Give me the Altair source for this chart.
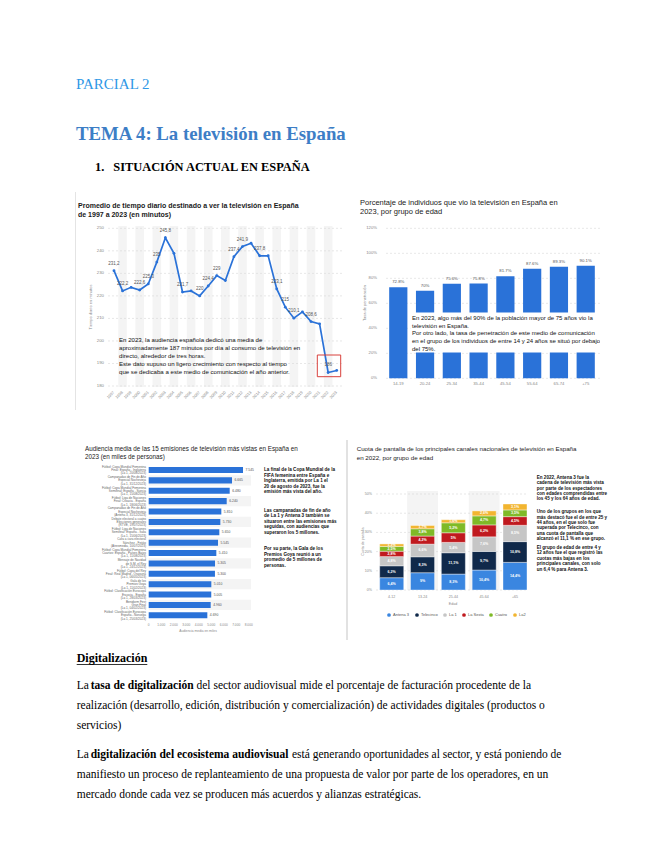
import altair as alt
import pandas as pd

SANS = "Liberation Sans"
SERIF = "Liberation Serif"
BLUE = "#2a72d8"

# ---------------- data ----------------
years = [str(y) for y in range(1997, 2024)]
minutes = [231.2, 222.2, 223.8, 222.6, 225.3, 235.0, 245.8, 238.9, 221.7, 222.2,
           220.0, 224.4, 229.0, 226.8, 237.4, 241.9, 243.4, 237.8, 237.8, 223.1,
           215.0, 210.1, 212.9, 208.6, 207.6, 186.0, 186.9]
labelled_years = ["1997", "1998", "2000", "2001", "2002", "2003", "2005", "2007", "2008",
                  "2009", "2011", "2012", "2014", "2016", "2017", "2018", "2020", "2022"]
minute_ticks = [180, 190, 200, 210, 220, 230, 240, 250]

age_groups = ["14-19", "20-24", "25-34", "35-44", "45-54", "55-64", "65-74", "+75"]
penetration = [72.8, 70.0, 75.6, 75.8, 81.7, 87.6, 89.3, 90.1]
pct_ticks = [0, 20, 40, 60, 80, 100, 120]

programs = [
    "Fútbol: Copa Mundial Femenina|Final: España - Inglaterra|(La 1, 20/08/2023)",
    "Campanadas de Fin de Año|Especial Nochevieja|(La 1, 31/12/2023)",
    "Fútbol: Copa Mundial Femenina|Semifinal: España - Suecia|(La 1, 15/08/2023)",
    "Fútbol: Liga de Naciones|Final: Croacia - España|(La 1, 18/06/2023)",
    "Campanadas de Fin de Año|Especial Nochevieja|(Antena 3, 31/12/2023)",
    "Debate electoral a cuatro|Elecciones generales|(RTVE, 19/07/2023)",
    "Fútbol: Liga de Naciones|Semifinal: España - Italia|(La 1, 15/06/2023)",
    "Cara a cara electoral|Sánchez - Feijóo|(Atresmedia, 10/07/2023)",
    "Fútbol: Copa Mundial Femenina|Cuartos: España - Países Bajos|(La 1, 11/08/2023)",
    "Mensaje de Navidad|de S.M. el Rey|(La 1, 24/12/2023)",
    "Fútbol: Copa del Rey|Final: Real Madrid - Osasuna|(La 1, 06/05/2023)",
    "Gala de los|Premios Goya|(La 1, 11/02/2023)",
    "Fútbol: Clasificación Eurocopa|Escocia - España|(La 1, 28/03/2023)",
    "Benidorm Fest|Gran Final|(La 1, 04/02/2023)",
    "Fútbol: Clasificación Eurocopa|España - Noruega|(La 1, 25/03/2023)",
]
audience = [7545, 6665, 6480, 6240, 5810, 5730, 5650, 5545, 5410, 5305, 5300, 5010, 5005, 4960, 4690]
aud_ticks = [0, 1000, 2000, 3000, 4000, 5000, 6000, 7000, 8000]

age_groups4 = ["4-12", "13-24", "25-44", "45-64", "+65"]
channels = ["Antena 3", "Telecinco", "La 1", "La Sexta", "Cuatro", "La2"]
channel_colors = ["#3a86e0", "#10294a", "#c6c6c6", "#c01a1f", "#7fba27", "#f2b530"]
share_antena3 = [6.4, 9.0, 8.3, 10.4, 14.4]
share_telecinco = [6.2, 8.3, 11.1, 9.7, 10.8]
share_la1 = [4.8, 6.6, 5.4, 7.6, 8.5]
share_lasexta = [2.8, 4.2, 5.0, 6.2, 4.5]
share_cuatro = [2.5, 3.8, 5.2, 4.7, 3.5]
share_la2 = [1.3, 1.7, 1.6, 2.6, 3.1]
share_ticks = [0, 10, 20, 30, 40, 50]


# ---------------- helpers ----------------
def X(v):
    return v - 8


def Y(v):
    return v - 8


def es_num(v, dec=1, thousands=False):
    if thousands:
        return f"{int(round(v)):,}".replace(",", ".")
    s = f"{v:.{dec}f}".replace(".", ",")
    if s.endswith(",0"):
        s = s[:-2]
    return s


one = pd.DataFrame({"k": [0]})


def txt(text, x, y, size, color="#000", weight="normal", font=SANS, align="left",
        baseline="alphabetic", angle=None, lh=None):
    m = dict(text=text, fontSize=size, color=color, fontWeight=weight, font=font,
             align=align, baseline=baseline)
    if angle is not None:
        m["angle"] = angle
    if "\n" in text:
        m["lineBreak"] = "\n"
        m["lineHeight"] = lh
    return alt.Chart(one).mark_text(**m).encode(x=alt.value(X(x)), y=alt.value(Y(y)))


def hrule(x1, x2, y, color, width=1.0):
    return alt.Chart(one).mark_rule(color=color, strokeWidth=width).encode(
        x=alt.value(X(x1)), x2=alt.value(X(x2)), y=alt.value(Y(y)))


def vrule(x, y1, y2, color, width=1.0):
    return alt.Chart(one).mark_rule(color=color, strokeWidth=width).encode(
        x=alt.value(X(x)), y=alt.value(Y(y1)), y2=alt.value(Y(y2)))


def box(x1, x2, y1, y2, fill=None, stroke=None, sw=1.0):
    m = {}
    if fill:
        m["fill"] = fill
    else:
        m["fillOpacity"] = 0
    if stroke:
        m["stroke"] = stroke
        m["strokeWidth"] = sw
    return alt.Chart(one).mark_rect(**m).encode(
        x=alt.value(X(x1)), x2=alt.value(X(x2)), y=alt.value(Y(y1)), y2=alt.value(Y(y2)))


layers = []

# ---------------- headings ----------------
layers += [
    txt("PARCIAL 2", 76, 88.5, 15, color="#2f98e6", font=SERIF),
    txt("TEMA 4: La televisión en España", 76, 140, 18.8, color="#3d7ec6", weight="bold", font=SERIF),
    txt("1.", 95, 170.5, 12.4, weight="bold", font=SERIF),
    txt("SITUACIÓN ACTUAL EN ESPAÑA", 113.3, 170.5, 12.4, weight="bold", font=SERIF),
]

# ---------------- chart 1: line ----------------
df1 = pd.DataFrame({"year": years, "minutes": minutes, "i": list(range(len(years)))})
df1["label"] = [es_num(v) for v in minutes]
X1p = alt.Scale(type="point", domain=years, range=[X(109.7), X(341)], padding=0.5)
X1b = alt.Scale(type="band", domain=years, range=[X(109.7), X(341)], paddingInner=0, paddingOuter=0)
Y1 = alt.Scale(domain=[180, 250], range=[Y(386), Y(228.3)], zero=False, nice=False)
dft1 = pd.DataFrame({"v": minute_ticks})

layers += [
    vrule(75.5, 192, 410, "#e4e4e4", 1),
    alt.Chart(df1).transform_filter("datum.i % 2 == 1").mark_rect(color="#f4f4f4").encode(
        x=alt.X("year:O", scale=X1b, axis=None), y=alt.value(Y(226)), y2=alt.value(Y(387))),
    alt.Chart(dft1).mark_rule(color="#d6d6d6", strokeDash=[2, 2], strokeWidth=0.6).encode(
        y=alt.Y("v:Q", scale=Y1, axis=None), x=alt.value(X(108)), x2=alt.value(X(342))),
    alt.Chart(dft1).mark_text(align="right", baseline="middle", fontSize=4.3, color="#888", font=SANS).encode(
        y=alt.Y("v:Q", scale=Y1, axis=None), x=alt.value(X(104)), text="v:Q"),
    alt.Chart(df1).mark_line(color=BLUE, strokeWidth=1.7).encode(
        x=alt.X("year:O", scale=X1p, axis=None), y=alt.Y("minutes:Q", scale=Y1, axis=None)),
    alt.Chart(df1).mark_circle(color=BLUE, size=8, opacity=1).encode(
        x=alt.X("year:O", scale=X1p, axis=None), y=alt.Y("minutes:Q", scale=Y1, axis=None)),
    alt.Chart(df1).transform_filter(alt.FieldOneOfPredicate(field="year", oneOf=labelled_years)).mark_text(
        dy=-5, fontSize=4.5, color="#555", font=SANS, baseline="bottom").encode(
        x=alt.X("year:O", scale=X1p, axis=None), y=alt.Y("minutes:Q", scale=Y1, axis=None), text="label:N"),
    alt.Chart(df1).mark_text(angle=315, align="right", baseline="middle", fontSize=4, color="#888", font=SANS).encode(
        x=alt.X("year:O", scale=X1p, axis=None), y=alt.value(Y(392)), text="year:N"),
    txt("Tiempo diario en minutos", 91, 307, 4, color="#888", align="center", baseline="middle", angle=270),
    txt("Promedio de tiempo diario destinado a ver la televisión en España\nde 1997 a 2023 (en minutos)",
        78, 207.5, 7, color="#1a1a1a", weight="bold", lh=9),
    txt("En 2023, la audiencia española dedicó una media de\n"
        "aproximadamente 187 minutos por día al consumo de televisión en\n"
        "directo, alrededor de tres horas.\n"
        "Este dato supuso un ligero crecimiento con respecto al tiempo\n"
        "que se dedicaba a este medio de comunicación el año anterior.",
        119, 341.5, 6.1, color="#111", lh=8),
    box(317.3, 340.7, 355, 376.7, stroke="#d8403c", sw=1),
]

# ---------------- chart 2: bars by age ----------------
df2 = pd.DataFrame({"age": age_groups, "pct": penetration})
df2["label"] = [f"{v:.1f}".rstrip("0").rstrip(".") + "%" for v in penetration]
X2 = alt.Scale(type="band", domain=age_groups, range=[X(384.9), X(599.1)], paddingInner=0.32, paddingOuter=0.16)
Y2 = alt.Scale(domain=[0, 120], range=[Y(378.3), Y(228.3)], zero=False, nice=False)
dft2 = pd.DataFrame({"v": pct_ticks})
dft2["label"] = [f"{v}%" for v in pct_ticks]

layers += [
    alt.Chart(dft2).mark_rule(color="#d6d6d6", strokeDash=[2, 2], strokeWidth=0.6).encode(
        y=alt.Y("v:Q", scale=Y2, axis=None), x=alt.value(X(386)), x2=alt.value(X(600))),
    alt.Chart(dft2).mark_text(align="right", baseline="middle", fontSize=4.2, color="#888", font=SANS).encode(
        y=alt.Y("v:Q", scale=Y2, axis=None), x=alt.value(X(377)), text="label:N"),
    alt.Chart(df2).mark_bar(color=BLUE).encode(
        x=alt.X("age:O", scale=X2, axis=None), y=alt.Y("pct:Q", scale=Y2, axis=None)),
    alt.Chart(df2).mark_text(dy=-3, baseline="bottom", fontSize=4.3, color="#555", font=SANS).encode(
        x=alt.X("age:O", scale=X2, axis=None), y=alt.Y("pct:Q", scale=Y2, axis=None), text="label:N"),
    alt.Chart(df2).mark_text(baseline="middle", fontSize=4.2, color="#888", font=SANS).encode(
        x=alt.X("age:O", scale=X2, axis=None), y=alt.value(Y(383.5)), text="age:N"),
    txt("Tasa de penetración", 365, 303, 4, color="#888", align="center", baseline="middle", angle=270),
    txt("Porcentaje de individuos que vio la televisión en España en\n2023, por grupo de edad",
        360, 205.3, 7.5, color="#1a1a1a", lh=9),
    box(410.5, 600, 312.5, 352.5, fill="#ffffff"),
    txt("En 2023, algo más del 90% de la población mayor de 75 años vio la\n"
        "televisión en España.\n"
        "Por otro lado, la tasa de penetración de este medio de comunicación\n"
        "en el grupo de los individuos de entre 14 y 24 años se situó por debajo\n"
        "del 75%.",
        412, 319.8, 6, color="#111", lh=7.75),
    box(600, 647, 188, 412, fill="#ffffff"),
]

# ---------------- chart 3: horizontal bars ----------------
df3 = pd.DataFrame({"prog": programs, "aud": audience, "i": list(range(len(programs)))})
df3["label"] = [es_num(v, thousands=True) for v in audience]
Y3 = alt.Scale(type="band", domain=programs, range=[Y(464.8), Y(620.5)], paddingInner=0.42, paddingOuter=0.21)
Y3b = alt.Scale(type="band", domain=programs, range=[Y(464.8), Y(620.5)], paddingInner=0, paddingOuter=0)
X3 = alt.Scale(domain=[0, 8000], range=[X(148.7), X(248.7)], zero=False, nice=False)
dft3 = pd.DataFrame({"v": aud_ticks})
dft3["label"] = [es_num(v, thousands=True) for v in aud_ticks]

layers += [
    alt.Chart(df3).transform_filter("datum.i % 2 == 1").mark_rect(color="#f4f4f4").encode(
        y=alt.Y("prog:N", scale=Y3b, axis=None), x=alt.value(X(148.7)), x2=alt.value(X(251))),
    alt.Chart(df3).mark_bar(color=BLUE).encode(
        y=alt.Y("prog:N", scale=Y3, axis=None), x=alt.X("aud:Q", scale=X3, axis=None)),
    alt.Chart(df3).mark_text(align="left", dx=2.5, baseline="middle", fontSize=3.4, color="#555", font=SANS).encode(
        y=alt.Y("prog:N", scale=Y3, axis=None), x=alt.X("aud:Q", scale=X3, axis=None), text="label:N"),
    alt.Chart(df3).mark_text(align="right", baseline="alphabetic", lineBreak="|", lineHeight=3.3, dy=-2.2,
                             fontSize=3.1, color="#666", font=SANS).encode(
        y=alt.Y("prog:N", scale=Y3, axis=None), x=alt.value(X(146)), text="prog:N"),
    alt.Chart(dft3).mark_text(baseline="middle", fontSize=3.2, color="#888", font=SANS).encode(
        x=alt.X("v:Q", scale=X3, axis=None), y=alt.value(Y(624.5)), text="label:N"),
    txt("Audiencia media en miles", 198, 631, 3.3, color="#888", align="center", baseline="middle"),
    txt("Audiencia media de las 15 emisiones de televisión más vistas en España en\n2023 (en miles de personas)",
        85, 451.2, 6.3, color="#1a1a1a", lh=7.7),
    txt("La final de la Copa Mundial de la\n"
        "FIFA femenina entre España e\n"
        "Inglaterra, emitida por La 1 el\n"
        "20 de agosto de 2023, fue la\n"
        "emisión más vista del año.",
        264, 471, 4.6, color="#111", weight=600, lh=5.6),
    txt("Las campanadas de fin de año\n"
        "de La 1 y Antena 3 también se\n"
        "situaron entre las emisiones más\n"
        "seguidas, con audiencias que\n"
        "superaron los 5 millones.",
        264, 511.7, 4.6, color="#111", weight=600, lh=5.5),
    txt("Por su parte, la Gala de los\n"
        "Premios Goya reunió a un\n"
        "promedio de 5 millones de\n"
        "personas.",
        264, 550, 4.6, color="#111", weight=600, lh=5.6),
    vrule(347, 440, 640, "#e2e2e2", 2),
]

# ---------------- chart 4: stacked bars ----------------
rows = []
shares = [share_antena3, share_telecinco, share_la1, share_lasexta, share_cuatro, share_la2]
for ci, (ch, vals) in enumerate(zip(channels, shares)):
    for g, v in zip(age_groups4, vals):
        rows.append({"group": g, "channel": ch, "ci": ci, "share": v, "label": es_num(v) + "%"})
df4 = pd.DataFrame(rows)
X4 = alt.Scale(type="band", domain=age_groups4, range=[X(376.3), X(530.4)], paddingInner=0.22, paddingOuter=0.11)
X4b = alt.Scale(type="band", domain=age_groups4, range=[X(376.3), X(530.4)], paddingInner=0, paddingOuter=0)
Y4 = alt.Scale(domain=[0, 50], range=[Y(590), Y(494)], zero=False, nice=False)
dft4 = pd.DataFrame({"v": share_ticks})
dft4["label"] = [f"{v}%" for v in share_ticks]
dfg4 = pd.DataFrame({"group": age_groups4, "i": list(range(len(age_groups4)))})

stacked = alt.Chart(df4).transform_stack(
    stack="share", groupby=["group"], sort=[alt.SortField("ci", order="ascending")], as_=["s0", "s1"]
).transform_calculate(mid="(datum.s0 + datum.s1) / 2")

layers += [
    alt.Chart(dfg4).transform_filter("datum.i % 2 == 1").mark_rect(color="#f4f4f4").encode(
        x=alt.X("group:O", scale=X4b, axis=None), y=alt.value(Y(491)), y2=alt.value(Y(590))),
    alt.Chart(dft4).mark_rule(color="#d6d6d6", strokeDash=[2, 2], strokeWidth=0.6).encode(
        y=alt.Y("v:Q", scale=Y4, axis=None), x=alt.value(X(376)), x2=alt.value(X(528))),
    alt.Chart(dft4).mark_text(align="right", baseline="middle", fontSize=3.6, color="#888", font=SANS).encode(
        y=alt.Y("v:Q", scale=Y4, axis=None), x=alt.value(X(372)), text="label:N"),
    stacked.mark_bar(stroke="white", strokeWidth=0.4).encode(
        x=alt.X("group:O", scale=X4, axis=None),
        y=alt.Y("s1:Q", scale=Y4, axis=None), y2="s0:Q",
        color=alt.Color("channel:N", scale=alt.Scale(domain=channels, range=channel_colors),
                        legend=alt.Legend(orient="none", legendX=X(387), legendY=Y(613), direction="horizontal",
                                          title=None, labelFontSize=4, labelFont=SANS, labelColor="#555",
                                          symbolType="circle", symbolSize=14, symbolStrokeWidth=0,
                                          columnPadding=5, labelOffset=2, padding=0))),
    stacked.mark_text(baseline="middle", fontSize=3.6, color="white", font=SANS, fontWeight="bold").encode(
        x=alt.X("group:O", scale=X4, axis=None), y=alt.Y("mid:Q", scale=Y4, axis=None), text="label:N"),
    alt.Chart(dfg4).mark_text(baseline="middle", fontSize=3.6, color="#888", font=SANS).encode(
        x=alt.X("group:O", scale=X4, axis=None), y=alt.value(Y(596.5)), text="group:N"),
    txt("Edad", 453, 603.5, 3.6, color="#888", align="center", baseline="middle"),
    txt("Cuota de pantalla", 363, 541.7, 3.6, color="#888", align="center", baseline="middle", angle=270),
    txt("Cuota de pantalla de los principales canales nacionales de televisión en España\n"
        "en 2022, por grupo de edad",
        356.7, 451.2, 6.2, color="#1a1a1a", lh=8.6),
    txt("En 2022, Antena 3 fue la\n"
        "cadena de televisión más vista\n"
        "por parte de los espectadores\n"
        "con edades comprendidas entre\n"
        "los 45 y los 64 años de edad.",
        536.7, 479, 4.6, color="#111", weight=600, lh=5.35),
    txt("Uno de los grupos en los que\n"
        "más destacó fue el de entre 25 y\n"
        "44 años, en el que solo fue\n"
        "superada por Telecinco, con\n"
        "una cuota de pantalla que\n"
        "alcanzó el 11,1 % en ese grupo.",
        536.7, 513.4, 4.6, color="#111", weight=600, lh=5.3),
    txt("El grupo de edad de entre 4 y\n"
        "12 años fue el que registró las\n"
        "cuotas más bajas en los\n"
        "principales canales, con solo\n"
        "un 6,4 % para Antena 3.",
        536.7, 549, 4.6, color="#111", weight=600, lh=5.4),
]

# ---------------- body text ----------------
BS = 11.5
layers += [
    txt("Digitalización", 76.7, 662, 12, weight="bold", font=SERIF),
    hrule(76.7, 147.3, 664.5, "#000", 0.8),
    txt("La", 76.7, 689, BS, font=SERIF),
    txt("tasa de digitalización", 90.7, 689, BS, weight="bold", font=SERIF),
    txt("del sector audiovisual mide el porcentaje de facturación procedente de la", 196.5, 689, BS, font=SERIF),
    txt("realización (desarrollo, edición, distribución y comercialización) de actividades digitales (productos o",
        76.7, 709, BS, font=SERIF),
    txt("servicios)", 76.7, 729, BS, font=SERIF),
    txt("La", 76.7, 758, BS, font=SERIF),
    txt("digitalización del ecosistema audiovisual", 90.7, 758, BS, weight="bold", font=SERIF),
    txt("está generando oportunidades al sector, y está poniendo de", 292, 758, BS, font=SERIF),
    txt("manifiesto un proceso de replanteamiento de una propuesta de valor por parte de los operadores, en un",
        76.7, 778, BS, font=SERIF),
    txt("mercado donde cada vez se producen más acuerdos y alianzas estratégicas.", 76.7, 798, BS, font=SERIF),
]

chart = alt.layer(*layers).resolve_scale(
    x="independent", y="independent", color="independent"
).properties(width=639, height=832, padding=0, autosize="none", background="white").configure_view(strokeWidth=0)

chart.save("out.html", embed_options={"renderer": "svg", "actions": False})
